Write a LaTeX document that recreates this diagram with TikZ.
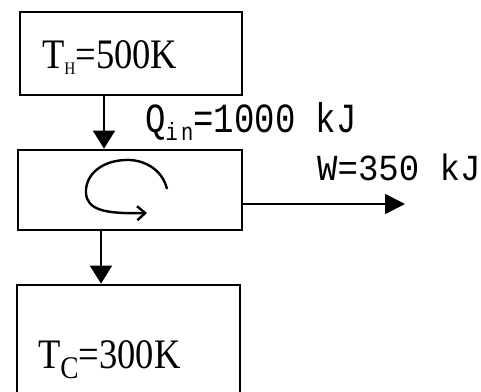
\documentclass[tikz,border=0pt]{standalone}
\usepackage{fontspec}
\usepackage{graphicx}
\setmainfont{Liberation Serif}
\newfontfamily\monofont{Liberation Mono}
\usetikzlibrary{arrows.meta}
\begin{document}
\begin{tikzpicture}[x=1pt,y=-1pt,
  box/.style={draw, line width=2.8pt, inner sep=0pt, rectangle},
  arr/.style={line width=1.8pt, -{Triangle[length=18pt,width=22pt]}},
  lbl/.style={anchor=base west, inner sep=0pt},
  serifbig/.style={font=\fontsize{42}{42}\selectfont, xscale=0.87},
  monobig/.style={font=\monofont\fontsize{34}{34}\selectfont}]
\useasboundingbox (0,0) rectangle (481,391);
\clip (0,0) rectangle (481,391);
\node[box, minimum width=222pt, minimum height=83pt] (hot) at (131,53.5) {};
\node[box, minimum width=224pt, minimum height=80pt] (eng) at (130,190) {};
\node[box, minimum width=223pt, minimum height=120pt] (cold) at (128.5,345) {};
\draw[arr] ([xshift=-27pt]hot.south) -- ([xshift=-26pt]eng.north);
\draw[arr] ([xshift=-29pt]eng.south) -- ([xshift=-27.5pt]cold.north);
\coordinate (wend) at (405,204);
\draw[line width=1.8pt, -{Triangle[length=20pt,width=20pt]}] ([yshift=-14pt]eng.east) -- (wend);
\draw[line width=2.4pt, -{Straight Barb[length=8pt,width=14pt]}]
  (167,189) .. controls (162,168) and (142,159) .. (125,160)
  .. controls (100,161) and (85,176) .. (86,193)
  .. controls (87,210) and (105,214) .. (147,213);
\node[lbl, serifbig] (th) at (42,68) {T\raisebox{-0.15em}{\scalebox{0.42}{H}}=500K};
\node[lbl, monobig, yscale=1.22] (qin) at (145,132) {Q\raisebox{-0.2em}{\scalebox{0.6}{i\,n}}=1000 kJ};
\node[lbl, monobig, yscale=1.08] (w) at (317,180) {W=350 kJ};
\node[lbl, serifbig] (tc) at (38,368) {T\raisebox{-0.25em}{\scalebox{0.75}{C}}=300K};
\end{tikzpicture}
\end{document}
